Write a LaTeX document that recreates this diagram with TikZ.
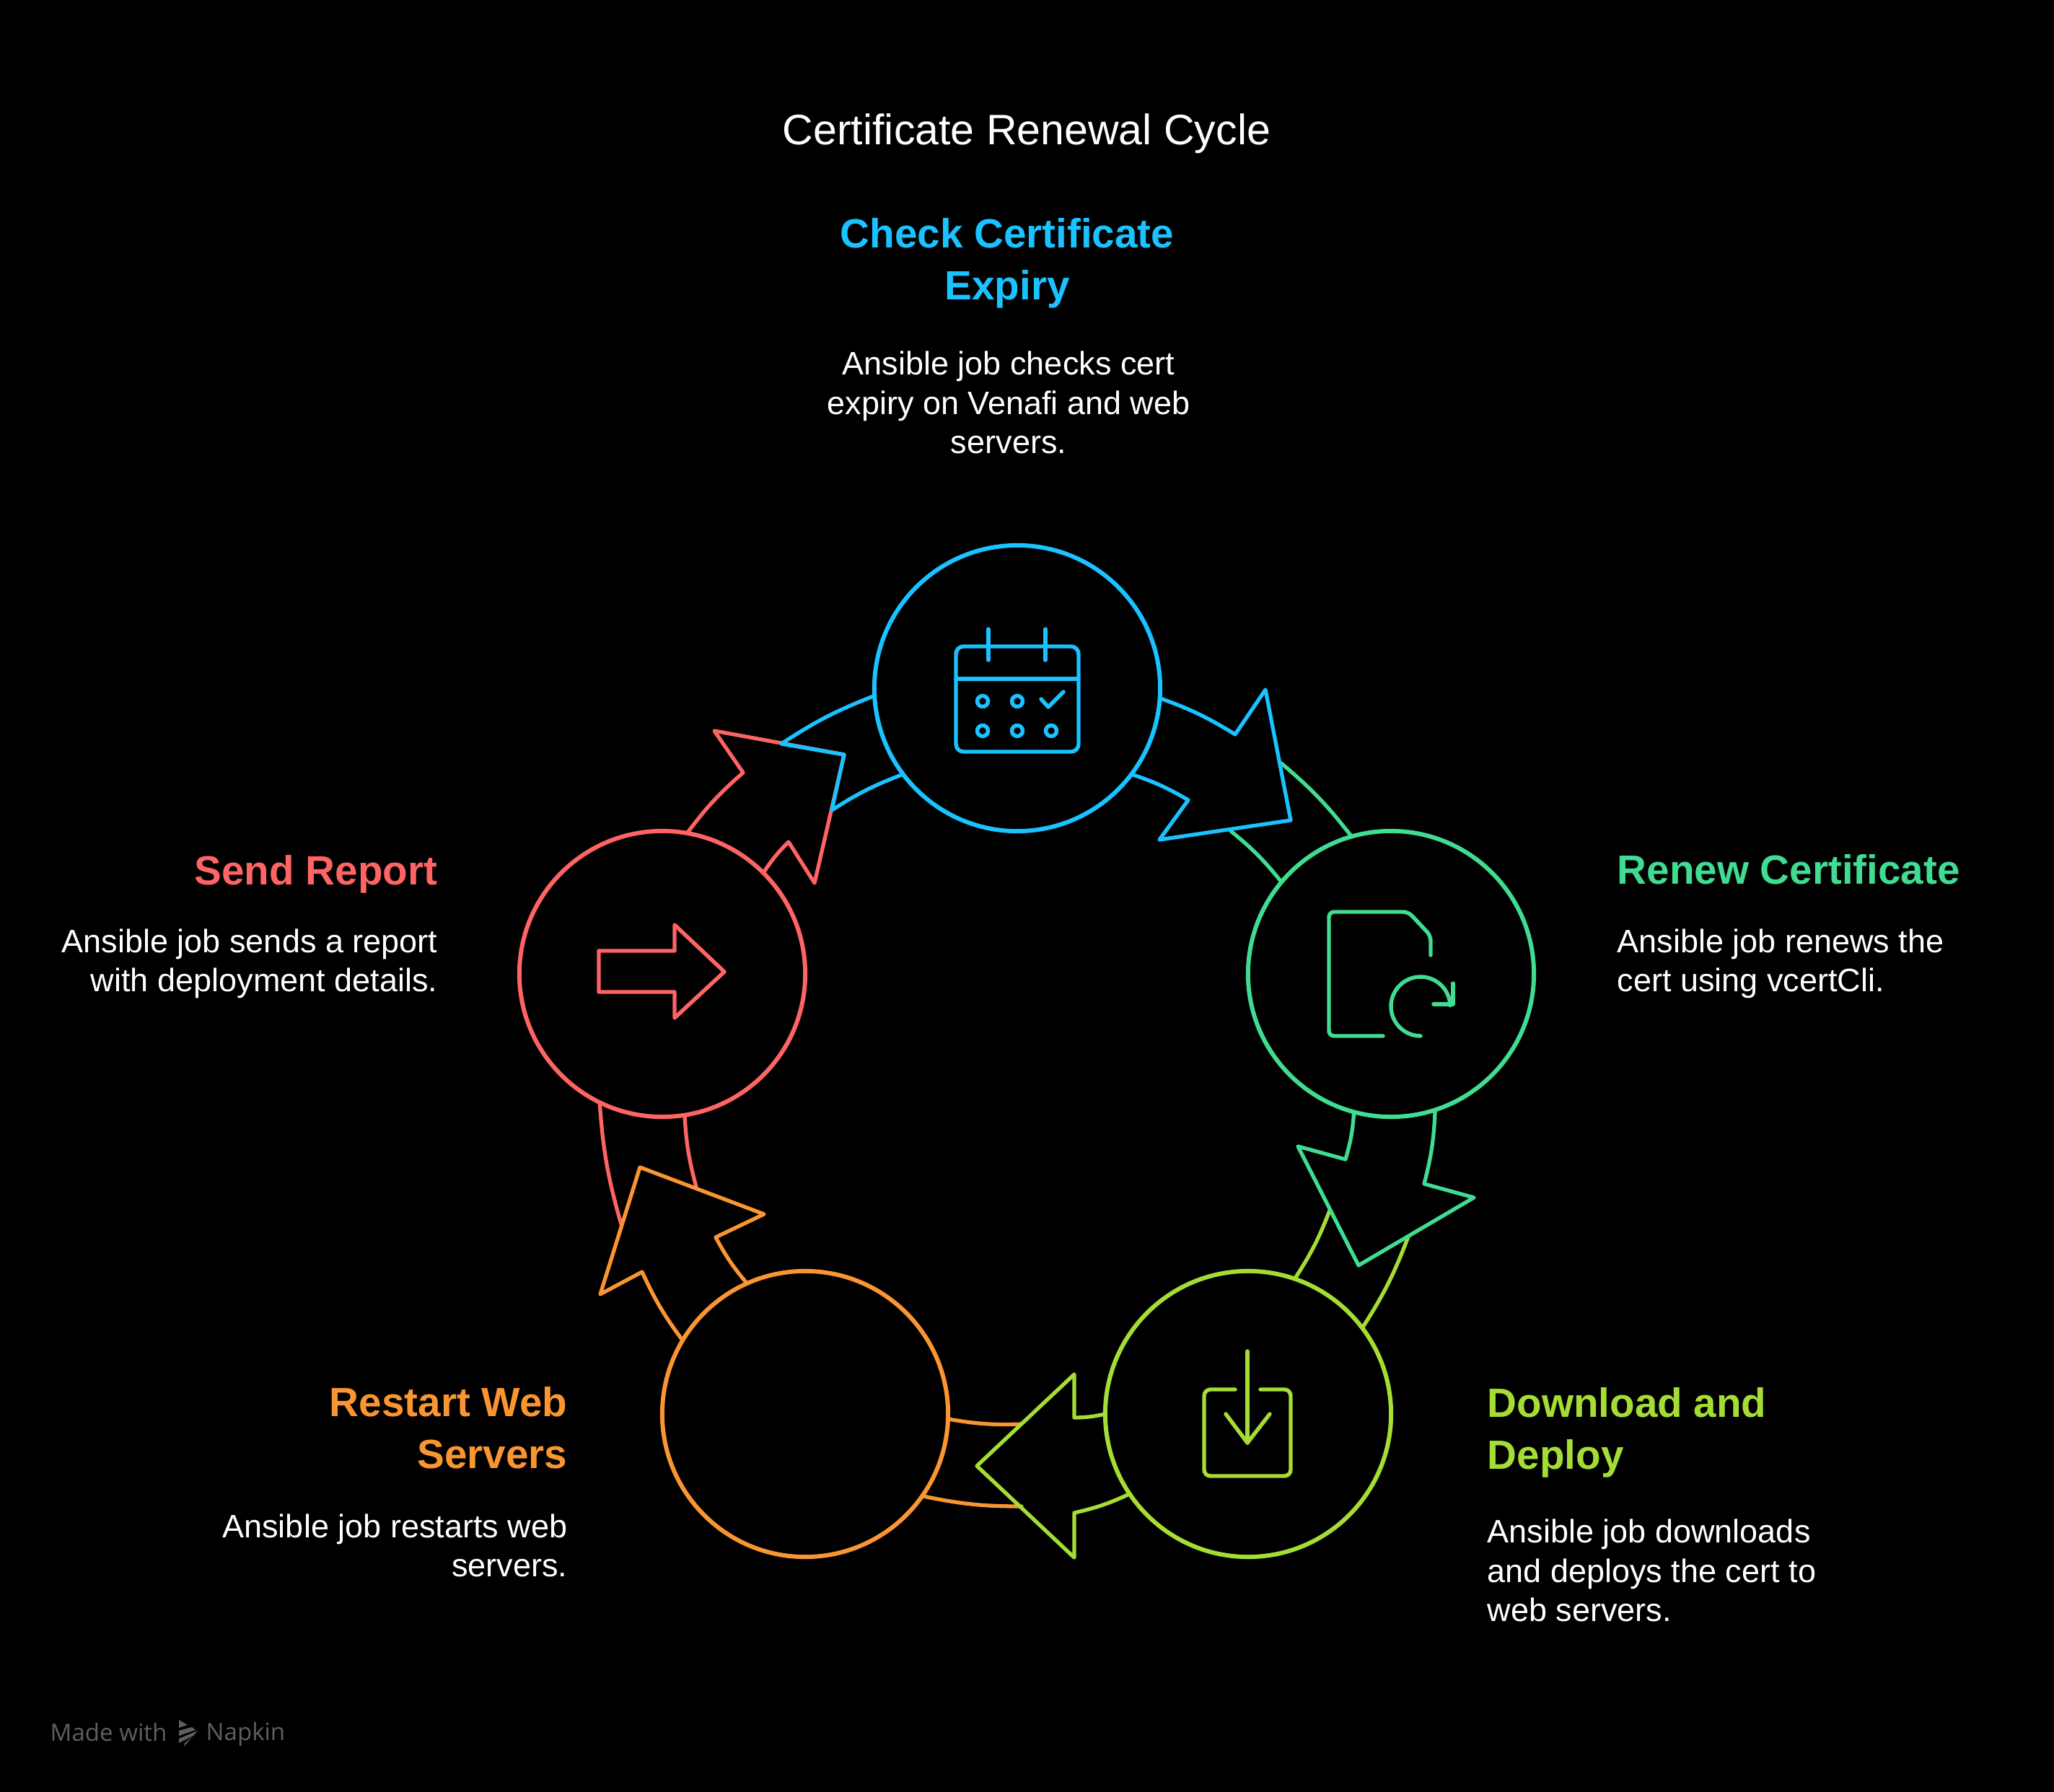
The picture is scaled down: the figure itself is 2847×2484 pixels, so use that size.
\documentclass[tikz,border=0pt]{standalone}
\usepackage{fontspec}
\setmainfont{Liberation Sans}
\newfontfamily\brandfont{Open Sans}
\definecolor{expiryblue}{HTML}{1AC2FF}
\definecolor{renewgreen}{HTML}{40DC91}
\definecolor{deploylime}{HTML}{A6DD34}
\definecolor{restartorange}{HTML}{FA9632}
\definecolor{reportred}{HTML}{FF6464}
\definecolor{brandgrey}{HTML}{5F5F5F}
\tikzset{
  stage/.style={circle,draw,line width=1.7pt,minimum size=3.96cm,inner sep=0pt,outer sep=0pt},
  flow/.style={line width=1.5pt,line join=round,line cap=round},
  glyph/.style={line width=1.55pt,line join=round,line cap=round},
  chart/.style={font=\fontsize{16.8}{16.8}\selectfont,inner sep=0pt},
  heading/.style={font=\fontsize{16.1}{20.6}\selectfont\bfseries,inner sep=0pt},
  blurb/.style={font=\fontsize{12.8}{15.4}\selectfont,text=white,inner sep=0pt},
  brand/.style={font=\fontsize{9.4}{9.4}\brandfont\selectfont,text=brandgrey,inner sep=0pt}
}
\begin{document}
\begin{tikzpicture}[x=0.01cm,y=-0.01cm]
  \fill[black] (0,0) rectangle (2847,2484);
  \useasboundingbox (0,0) rectangle (2847,2484);

  % stages
  \node[stage,draw=expiryblue] (expiry) at (1410,954) {};
  \node[stage,draw=renewgreen] (renew) at (1928,1350) {};
  \node[stage,draw=deploylime] (deploy) at (1730,1960) {};
  \node[stage,draw=restartorange] (restart) at (1116,1960) {};
  \node[stage,draw=reportred] (report) at (918,1350) {};

  % arrow corners
  \coordinate (e1) at (1712,1018); \coordinate (e2) at (1754,956); \coordinate (e3) at (1789,1137);
  \coordinate (e4) at (1607,1164); \coordinate (e5) at (1647,1109);
  \coordinate (e6) at (1776,1058); \coordinate (e7) at (1706,1152);
  \coordinate (r1) at (1974,1641); \coordinate (r2) at (2043,1660); \coordinate (r3) at (1883,1754);
  \coordinate (r4) at (1799,1589); \coordinate (r5) at (1865,1607);
  \coordinate (r6) at (1952,1714); \coordinate (r7) at (1843,1678);
  \coordinate (d1) at (1489,1965); \coordinate (d2) at (1489,1905); \coordinate (d3) at (1354,2032);
  \coordinate (d4) at (1489,2159); \coordinate (d5) at (1489,2097);
  \coordinate (d6) at (1416,1974); \coordinate (d7) at (1416,2088);
  \coordinate (s1) at (890,1763); \coordinate (s2) at (832,1794); \coordinate (s3) at (887,1618);
  \coordinate (s4) at (1059,1683); \coordinate (s5) at (992,1715);
  \coordinate (s6) at (861,1697); \coordinate (s7) at (965,1645);
  \coordinate (p1) at (1030,1071); \coordinate (p2) at (990,1013); \coordinate (p3) at (1170,1046);
  \coordinate (p4) at (1129,1224); \coordinate (p5) at (1093,1167);
  \coordinate (p6) at (1083,1031); \coordinate (p7) at (1153,1123);

  % incoming arcs
  \begin{scope}[flow]
    \draw[renewgreen] (e6) to[bend left=6] (renew.106);
    \draw[renewgreen] (e7) to[bend left=6] (renew.140);
    \draw[deploylime] (r6) to[bend left=6] (deploy.37);
    \draw[deploylime] (r7) to[bend left=6] (deploy.71);
    \draw[restartorange] (d6) to[bend left=6] (restart.-2);
    \draw[restartorange] (d7) to[bend left=6] (restart.-35);
    \draw[reportred] (s6) to[bend left=6] (report.244);
    \draw[reportred] (s7) to[bend left=6] (report.-81);
  \end{scope}

  % outgoing arrows
  \begin{scope}[flow]
    \draw[expiryblue] (expiry.-4) to[bend left=6] (e1) -- (e2) -- (e3) -- (e4) -- (e5) to[bend right=6] (expiry.-37);
    \draw[renewgreen] (renew.-72) to[bend left=6] (r1) -- (r2) -- (r3) -- (r4) -- (r5) to[bend right=6] (renew.-105);
    \draw[deploylime] (deploy.180) to[bend left=6] (d1) -- (d2) -- (d3) -- (d4) -- (d5) to[bend right=6] (deploy.214);
    \draw[restartorange] (restart.149) to[bend left=6] (s1) -- (s2) -- (s3) -- (s4) -- (s5) to[bend right=6] (restart.114);
    \draw[reportred] (report.80) to[bend left=6] (p1) -- (p2) -- (p3) -- (p4) -- (p5) to[bend right=6] (report.45);
    % blue band lies over the red head
    \draw[expiryblue] (expiry.183) to[bend right=6] (p6) -- (p3) -- (p7) to[bend left=6] (expiry.217);
  \end{scope}

  % calendar
  \begin{scope}[glyph,expiryblue]
    \draw[rounded corners=3pt] (1325,896) rectangle (1495,1042);
    \draw (1325,941) -- (1495,941);
    \draw (1370,872) -- (1370,915);
    \draw (1449,872) -- (1449,915);
    \foreach \cx/\cy in {1362/972,1410/972,1362/1013,1410/1013,1457/1013}
      \draw (\cx,\cy) circle (7.5);
    \draw (1443,969) -- (1453,980) -- (1474,959);
  \end{scope}

  % renewed file
  \begin{scope}[glyph,renewgreen]
    \draw[rounded corners=2pt] (1983,1324) -- (1983,1297) -- (1952,1264) -- (1842,1264) -- (1842,1436) -- (1917,1436);
    \draw (1969,1436) arc[start angle=90,end angle=358,radius=41];
    \draw (2014,1363) -- (2014,1392) -- (1987,1392);
  \end{scope}

  % download
  \begin{scope}[glyph,deploylime]
    \draw[rounded corners=2.5pt] (1712,1926) -- (1669,1926) -- (1669,2046) -- (1789,2046) -- (1789,1926) -- (1747,1926);
    \draw (1729,1873) -- (1729,2000);
    \draw (1699,1960) -- (1729,2000) -- (1760,1960);
  \end{scope}

  % report arrow
  \draw[glyph,reportred] (830,1318) -- (935,1318) -- (935,1282) -- (1004,1347) -- (935,1411) -- (935,1375) -- (830,1375) -- cycle;

  % texts
  \node[chart,text=white] (charttitle) at (1423,185) {Certificate Renewal Cycle};
  \node[heading,text=expiryblue,align=center] (expiryhead) at (1396,365) {Check Certificate\\Expiry};
  \node[blurb,align=center] (expirytext) at (1398,558) {Ansible job checks cert\\expiry on Venafi and web\\servers.};
  \node[heading,text=renewgreen,anchor=west] (renewhead) at (2241,1205) {Renew Certificate};
  \node[blurb,align=left,anchor=west] (renewtext) at (2241,1336) {Ansible job renews the\\cert using vcertCli.};
  \node[heading,text=deploylime,align=left,anchor=west] (deployhead) at (2061,1986) {Download and\\Deploy};
  \node[blurb,align=left,anchor=west] (deploytext) at (2061,2177) {Ansible job downloads\\and deploys the cert to\\web servers.};
  \node[heading,text=restartorange,align=right,anchor=east] (restarthead) at (787,1979) {Restart Web\\Servers};
  \node[blurb,align=right,anchor=east] (restarttext) at (787,2142) {Ansible job restarts web\\servers.};
  \node[heading,text=reportred,anchor=east] (reporthead) at (607,1212) {Send Report};
  \node[blurb,align=right,anchor=east] (reporttext) at (607,1336) {Ansible job sends a report\\with deployment details.};

  % brand line
  \node[brand,anchor=west] (madewith) at (69,2401) {Made with};
  \node[brand,anchor=west] (napkin) at (285,2404) {Napkin};
  \fill[brandgrey] (248,2384) -- (260,2391) -- (248,2395) -- cycle;
  \fill[brandgrey] (248,2399) -- (266,2394) -- (271,2398) -- (248,2406) -- cycle;
  \fill[brandgrey] (248,2410) -- (274,2399) -- (268,2406) -- (248,2416) -- cycle;
  \fill[brandgrey] (255,2421) -- (256,2416) -- (266,2408) -- cycle;
\end{tikzpicture}
\end{document}
